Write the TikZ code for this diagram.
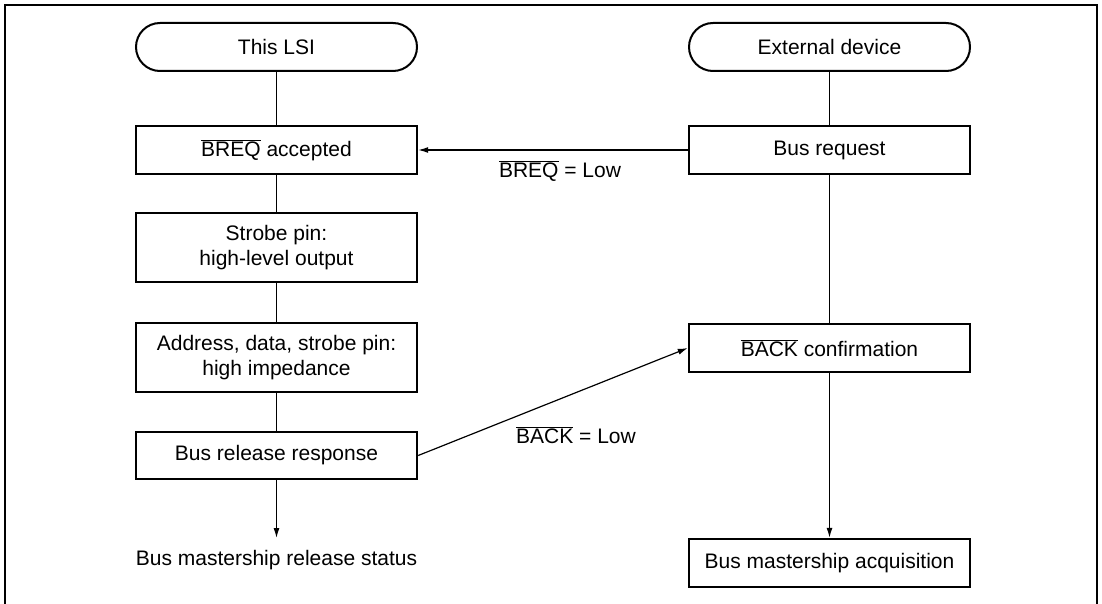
\documentclass[tikz,border=0pt]{standalone}
\usepackage{fontspec}
\setmainfont{Liberation Sans}
\usetikzlibrary{arrows.meta}
\newcommand\barsig[1]{$\overline{\mbox{#1}}$}
\begin{document}
\begin{tikzpicture}[x=1pt,y=-1pt,
  every node/.style={font=\fontsize{21}{25}\selectfont, align=center},
  stepbox/.style={draw, line width=2.4pt, minimum width=281pt, minimum height=48pt, inner sep=0pt},
  termbox/.style={draw, line width=2pt, minimum width=281pt, minimum height=48pt, rounded corners=24pt, inner sep=0pt},
  conn/.style={line width=1.2pt},
  arr/.style={conn, -{Latex[length=10pt,width=6pt]}},
  lbl/.style={inner sep=0pt}]
\useasboundingbox (0,0) rectangle (1102,604);
\draw[line width=2.4pt] (5,610) -- (5,5) -- (1097,5) -- (1097,610);
% left column
\node[termbox] (lsi) at (276.5,47) {This LSI};
\node[stepbox] (breqacc) at (276.5,150) {\barsig{BREQ} accepted};
\node[stepbox, minimum height=69pt] (strobe) at (276.5,247.5) {Strobe pin:\\high-level output};
\node[stepbox, minimum height=69pt] (addr) at (276.5,357.5) {Address, data, strobe pin:\\high impedance};
\node[stepbox, minimum height=47pt] (release) at (276.5,455.5) {Bus release response};
\node[lbl, anchor=north] (status) at (276.5,550) {Bus mastership release status};
% right column
\node[termbox] (ext) at (829.5,47) {External device};
\node[stepbox] (busreq) at (829.5,150) {Bus request};
\node[stepbox] (backconf) at (829.5,348) {\barsig{BACK} confirmation};
\node[stepbox] (acq) at (829.5,563) {Bus mastership acquisition};
% labels
\node[lbl] (breqlow) at (560,171) {\barsig{BREQ} = Low};
\node[lbl] (backlow) at (576,435) {\barsig{BACK} = Low};
% connectors
\draw[conn] (lsi) -- (breqacc);
\draw[conn] (breqacc) -- (strobe);
\draw[conn] (strobe) -- (addr);
\draw[conn] (addr) -- (release);
\draw[arr, shorten >=12pt] (release) -- (status.north);
\draw[conn] (ext) -- (busreq);
\draw[conn] (busreq) -- (backconf);
\draw[arr] (backconf) -- (acq);
\draw[arr] (busreq) -- (breqacc);
\draw[arr] (release.east) -- (backconf.west);
\end{tikzpicture}
\end{document}
